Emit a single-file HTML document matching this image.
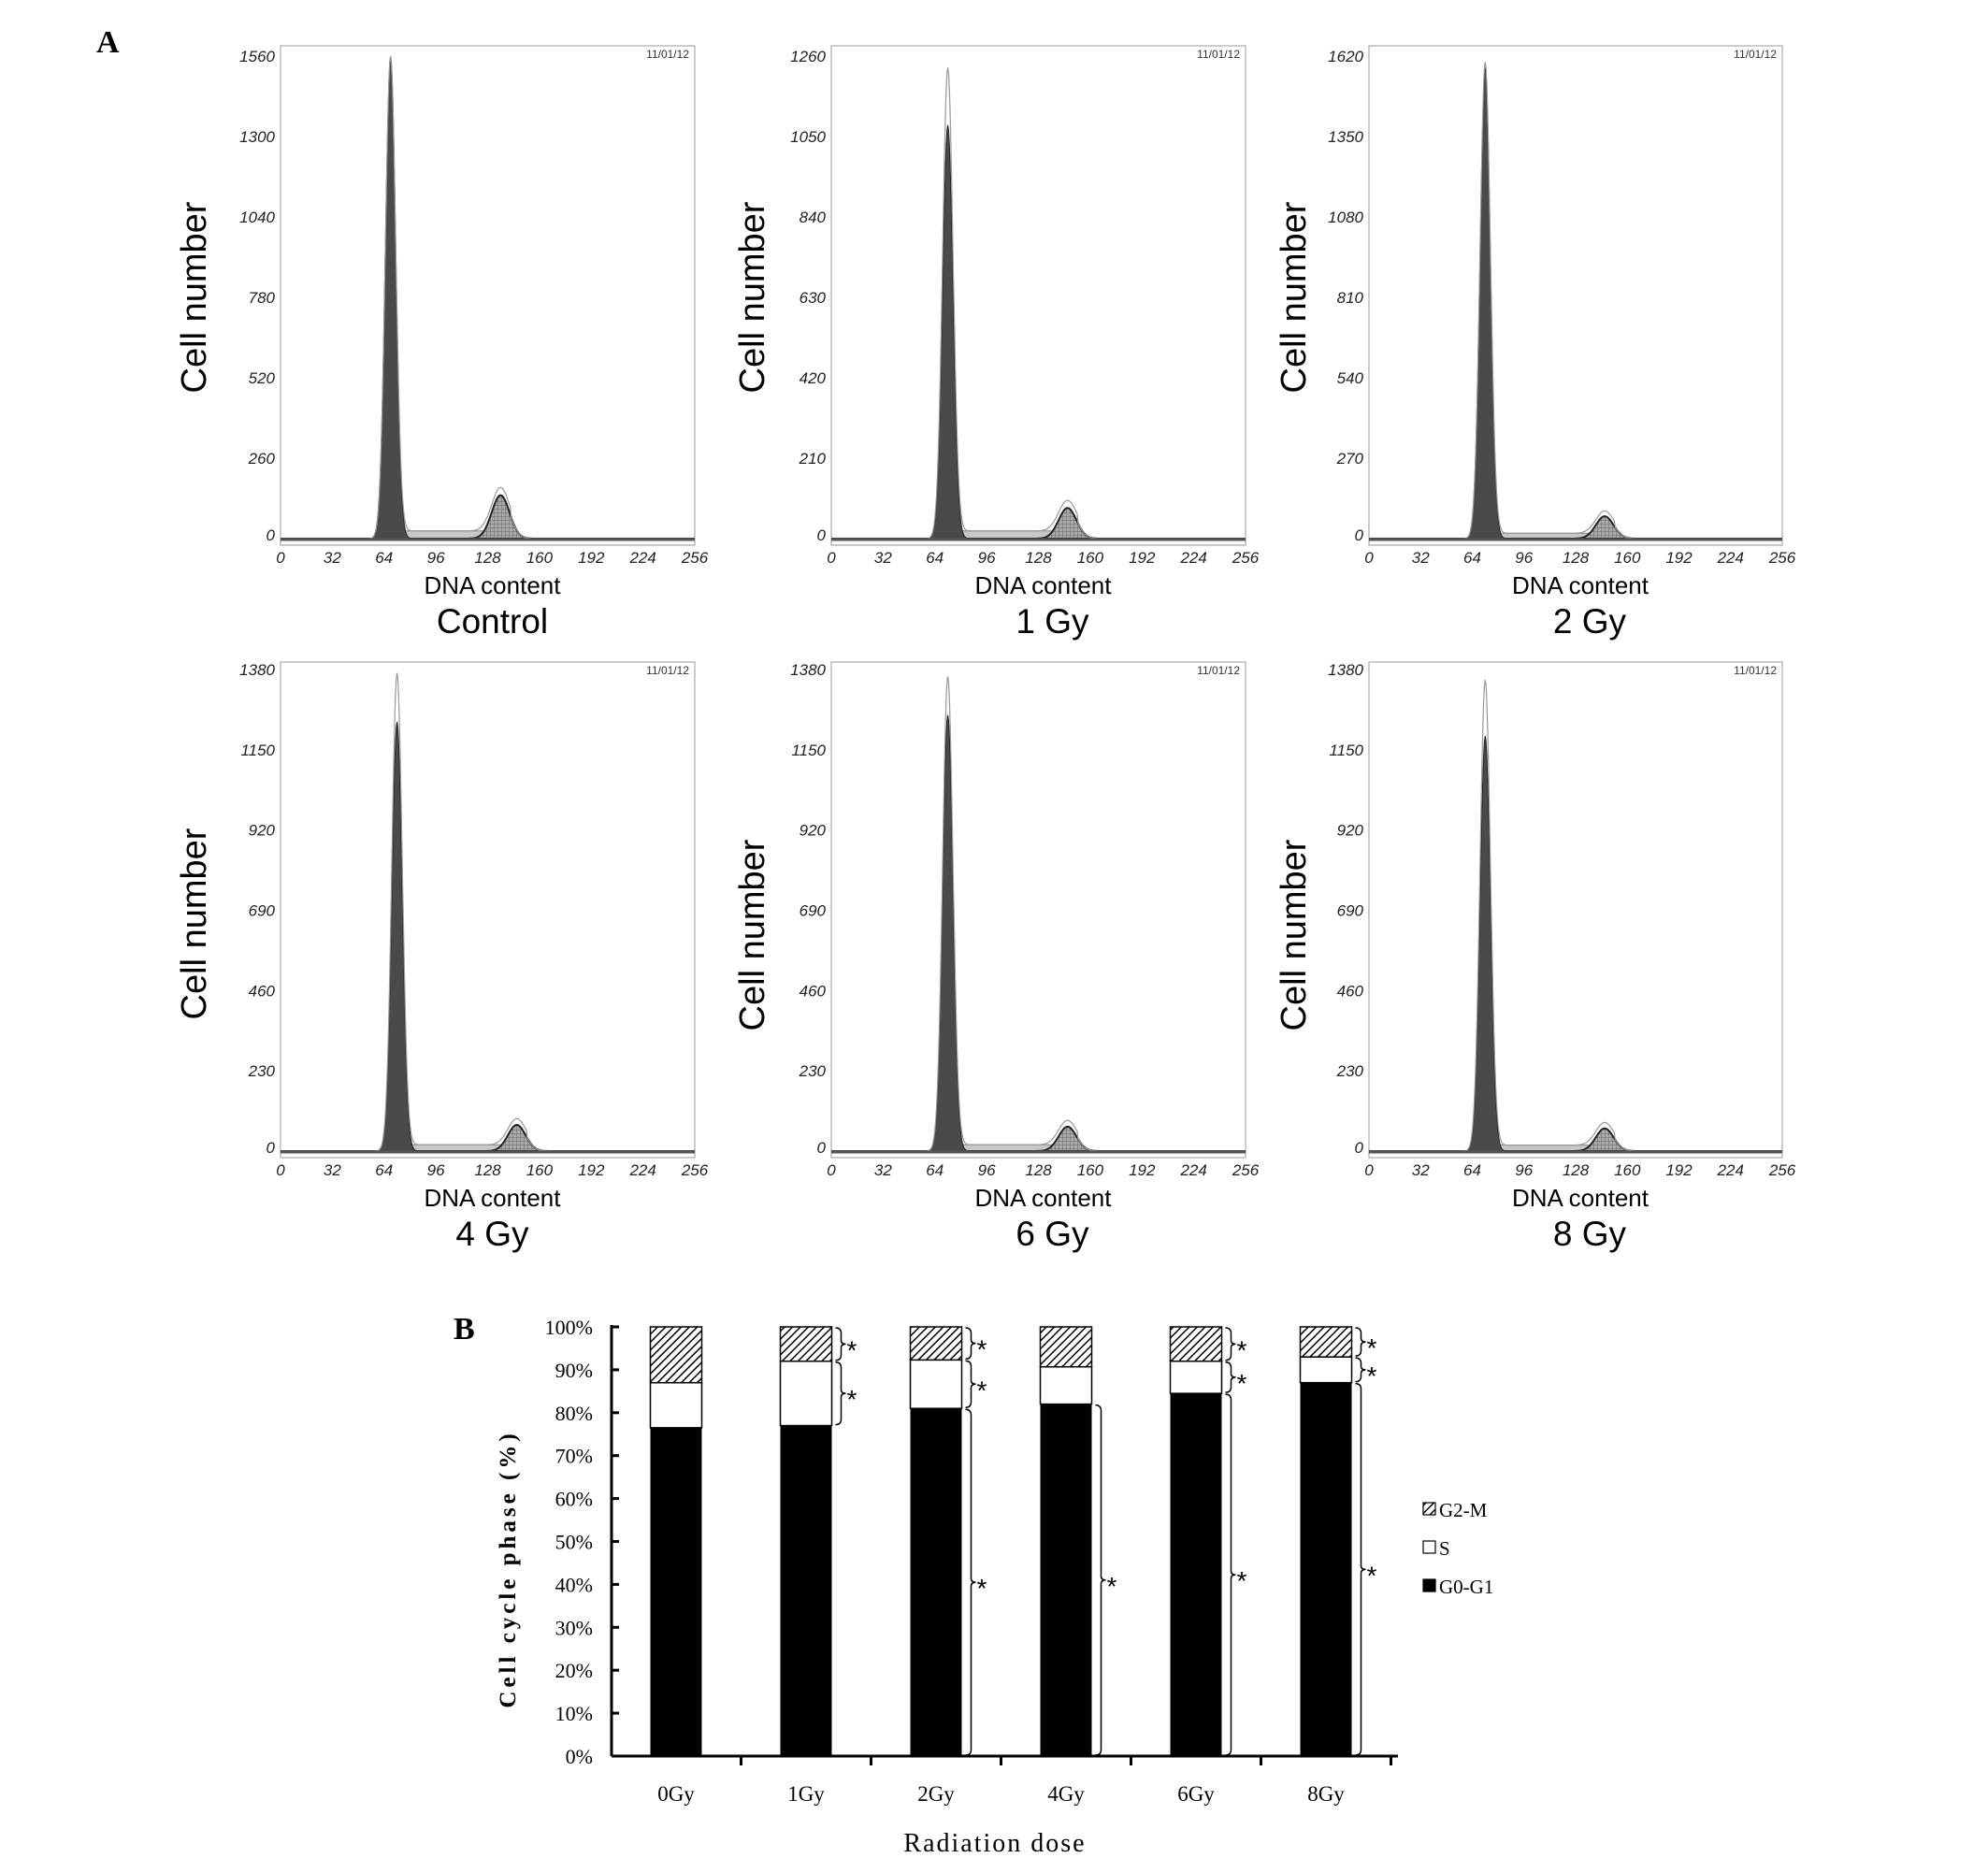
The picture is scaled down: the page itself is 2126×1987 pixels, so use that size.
<!DOCTYPE html>
<html><head><meta charset="utf-8"><style>
html,body{margin:0;padding:0;background:#fff;}
svg{display:block;}
</style></head><body>
<svg id="fig" width="2126" height="1987" viewBox="0 0 2126 1987" xmlns="http://www.w3.org/2000/svg">
<rect width="2126" height="1987" fill="#fff"/>
<text x="103" y="56" font-family="Liberation Serif, serif" font-weight="bold" font-size="34">A</text>
<text x="485" y="1432" font-family="Liberation Serif, serif" font-weight="bold" font-size="34">B</text>
<g id="hists"></g>
<g id="bars"></g>
</svg>
<script>
// ---- Panel A histogram data ----
const panelTitles = ["Control","1 Gy","2 Gy","4 Gy","6 Gy","8 Gy"];
const yMaxes = [1560,1260,1620,1380,1380,1380];
const yTickStep = [260,210,270,230,230,230];
const g1Peaks = [1560,1080,1580,1230,1250,1190];
const g1RawPeaks = [1560,1230,1600,1370,1360,1350];
const g1Pos = [68,72,72,72,72,72];
const g2Peaks = [140,80,75,75,70,65];
const g2Pos = [136,146,146,146,146,146];
const sLevels = [25,20,18,18,18,17];
const xTicks = [0,32,64,96,128,160,192,224,256];

// ---- Panel B bar data ----
const doses = ["0Gy","1Gy","2Gy","4Gy","6Gy","8Gy"];
const g0g1 = [76.5,77,81,82,84.5,87];
const sPhase = [10.5,15,11.3,8.7,7.5,6];
const g2m = [13,8,7.7,9.3,8,7];
const yPctTicks = [0,10,20,30,40,50,60,70,80,90,100];

const NS="http://www.w3.org/2000/svg";
function mk(tag, attrs, parent, text){
  const e=document.createElementNS(NS,tag);
  for(const k in attrs) e.setAttribute(k,attrs[k]);
  if(text!==undefined) e.textContent=text;
  parent.appendChild(e); return e;
}
const svg=document.getElementById('fig');
const defs=mk('defs',{},svg);
const pat=mk('pattern',{id:'hatch',width:6,height:6,patternUnits:'userSpaceOnUse',patternTransform:'rotate(45)'},defs);
mk('rect',{width:6,height:6,fill:'#fff'},pat);
mk('line',{x1:0,y1:0,x2:0,y2:6,stroke:'#000','stroke-width':3},pat);
const grid=mk('pattern',{id:'grid',width:4,height:4,patternUnits:'userSpaceOnUse'},defs);
mk('rect',{width:4,height:4,fill:'#aaa'},grid);
mk('path',{d:'M0 0H4M0 0V4',stroke:'#666','stroke-width':1},grid);

const hg=document.getElementById('hists');
const colX=[[300,743],[889,1332],[1464,1906]];
const rows=[{top:49,ymax:60,bot:583},{top:708,ymax:716,bot:1238}];
const cellNumX=[207,804,1383];

for(let i=0;i<6;i++){
  const c=colX[i%3], r=rows[Math.floor(i/3)];
  const g=mk('g',{},hg);
  
  
  const x0=c[0],x1=c[1];
  const zeroY=r.bot-7;
  const sx=v=>x0+(v/256)*(x1-x0);
  const sy=v=>zeroY-(v/yMaxes[i])*(zeroY-r.ymax);
  const box=mk('rect',{x:x0,y:r.top,width:x1-x0,height:r.bot-r.top,fill:'none',stroke:'#bbb','stroke-width':1.5},g);
  
  
  const dt=mk('text',{x:x1-6,y:r.top+13,'text-anchor':'end','font-family':'Liberation Sans, sans-serif','font-size':12,fill:'#333'},g,'11/01/12');
  
  
  for(let v=0;v<=yMaxes[i];v+=yTickStep[i]){
    const t=mk('text',{x:x0-6,y:sy(v)+(v===0?2:6),'text-anchor':'end','font-family':'Liberation Sans, sans-serif','font-style':'italic','font-size':17,fill:'#222'},g,String(v));
    
    
  }
  xTicks.forEach(v=>{
    const t=mk('text',{x:sx(v),y:r.bot+19,'text-anchor':'middle','font-family':'Liberation Sans, sans-serif','font-style':'italic','font-size':17,fill:'#222'},g,String(v));
    
    
  });
  const w1=3.2,w2=5.5;
  const gauss=(x,m,w)=>Math.exp(-0.5*((x-m)/w)**2);
  const sPart=x=>{ if(x<g1Pos[i]+4||x>g2Pos[i]+6) return 0; return sLevels[i]; };
  let dS='M'+sx(0)+' '+sy(0), dG1='M'+sx(0)+' '+sy(0), dG2='M'+sx(0)+' '+sy(0), dL='';
  for(let x=0;x<=256;x+=0.5){
    const s=sPart(x), a=g1Peaks[i]*gauss(x,g1Pos[i],w1), b=g2Peaks[i]*gauss(x,g2Pos[i],w2);
    dS+=' L'+sx(x)+' '+sy(s);
    dG1+=' L'+sx(x)+' '+sy(a);
    dG2+=' L'+sx(x)+' '+sy(b);
    const raw=(g1RawPeaks[i])*gauss(x,g1Pos[i],w1)+b+s;
    dL+=(x===0?'M':' L')+sx(x)+' '+sy(raw);
  }
  dS+=' L'+sx(256)+' '+sy(0)+'Z'; dG1+=' L'+sx(256)+' '+sy(0)+'Z'; dG2+=' L'+sx(256)+' '+sy(0)+'Z';
  const ps=mk('path',{d:dS,fill:'#c8c8c8',stroke:'#888','stroke-width':1},g);
   
  const p2=mk('path',{d:dG2,fill:'url(#grid)',stroke:'#222','stroke-width':2},g);
   
  const p1=mk('path',{d:dG1,fill:'#4a4a4a',stroke:'#222','stroke-width':1},g);
   
  const pl=mk('path',{d:dL,fill:'none',stroke:'#999','stroke-width':1.2},g);
   
  mk('line',{x1:x0,y1:sy(0)+1,x2:x1,y2:sy(0)+1,stroke:'#555','stroke-width':3},g);
  const cx=(x0+x1)/2+5;
  const xl=mk('text',{x:cx,y:r.bot+52,'text-anchor':'middle','font-family':'Liberation Sans, sans-serif','font-size':26},g,'DNA content');
   
  const tl=mk('text',{x:cx+(i%3?10:0),y:r.bot+94,'text-anchor':'middle','font-family':'Liberation Sans, sans-serif','font-size':37},g,panelTitles[i]);
   
  const cyl=r===rows[0]?318:(i===3?988:1000);
  const yl=mk('text',{x:0,y:0,'text-anchor':'middle','font-family':'Liberation Sans, sans-serif','font-size':38,transform:'translate('+(cellNumX[i%3]+13)+','+cyl+') rotate(-90)'},g,'Cell number');
   
}

// ---- Panel B ----
const bg=document.getElementById('bars');
const ax0=654, ax1=1495, y0=1878, y100=1419;
const yS=p=>y0-(p/100)*(y0-y100);
const step=139, firstC=723, bw=55;
const xC=i=>firstC+i*step;
const serif='Liberation Serif, "Noto Serif CJK SC", serif';
yPctTicks.forEach(p=>{
  const t=mk('text',{x:ax0-20,y:yS(p)+8,'text-anchor':'end','font-family':serif,'font-size':22},bg,p+'%');
   
  mk('line',{x1:ax0,y1:yS(p),x2:ax0+8,y2:yS(p),stroke:'#000','stroke-width':3},bg);
});
doses.forEach((d,i)=>{
  const x=xC(i)-bw/2;
  const a=g0g1[i], b=a+sPhase[i], c=b+g2m[i];
  const r1=mk('rect',{x:x,y:yS(a),width:bw,height:yS(0)-yS(a),fill:'#000'},bg);
   
  const r2=mk('rect',{x:x,y:yS(b),width:bw,height:yS(a)-yS(b),fill:'#fff',stroke:'#000','stroke-width':1.5},bg);
   
  const r3=mk('rect',{x:x,y:yS(Math.min(c,100)),width:bw,height:yS(b)-yS(Math.min(c,100)),fill:'url(#hatch)',stroke:'#000','stroke-width':1.5},bg);
   
  const t=mk('text',{x:xC(i),y:1926,'text-anchor':'middle','font-family':serif,'font-size':23},bg,d);
   
  mk('line',{x1:xC(i)+step/2,y1:y0,x2:xC(i)+step/2,y2:y0+10,stroke:'#000','stroke-width':3},bg);
});
mk('line',{x1:ax0,y1:y100-2,x2:ax0,y2:y0,stroke:'#000','stroke-width':3},bg);
mk('line',{x1:ax0,y1:y0,x2:ax1,y2:y0,stroke:'#000','stroke-width':3},bg);
const braces=[[1,1],[1,2],[2,0],[2,1],[2,2],[3,0],[4,0],[4,1],[4,2],[5,0],[5,1],[5,2]];
braces.forEach(([i,sgm])=>{
  const a=g0g1[i], b=a+sPhase[i];
  const lo=[0,a,b][sgm], hi=[a,b,100][sgm];
  const xb=xC(i)+bw/2+4, yt=yS(hi)+1, yb=yS(lo)-1, ym=(yt+yb)/2;
  const d='M'+xb+' '+yt+' Q'+(xb+6)+' '+yt+' '+(xb+6)+' '+(yt+6)+' L'+(xb+6)+' '+(ym-4)+' Q'+(xb+6)+' '+ym+' '+(xb+11)+' '+ym+' Q'+(xb+6)+' '+ym+' '+(xb+6)+' '+(ym+4)+' L'+(xb+6)+' '+(yb-6)+' Q'+(xb+6)+' '+yb+' '+xb+' '+yb;
  const p=mk('path',{d:d,fill:'none',stroke:'#000','stroke-width':1.5},bg);
   
  const s=mk('text',{x:xb+12,y:ym+16,'font-family':'Liberation Sans, sans-serif','font-size':28},bg,'*');
   
});
const yt=mk('text',{x:0,y:0,'text-anchor':'middle','font-family':serif,'font-weight':'bold','font-size':25,'letter-spacing':4,transform:'translate(551,1678) rotate(-90)'},bg,'Cell cycle phase (%)');
 
const xt=mk('text',{x:1064,y:1980,'text-anchor':'middle','font-family':serif,'font-size':28,'letter-spacing':2},bg,'Radiation dose');
 
const legItems=[['G2-M','url(#hatch)',1622],['S','#fff',1663],['G0-G1','#000',1704]];
legItems.forEach(([lab,fill,y])=>{
  const lg=mk('g',{},bg);
   
  mk('rect',{x:1522,y:y-15,width:13,height:13,fill:fill,stroke:'#000','stroke-width':1.2},lg);
  mk('text',{x:1539,y:y,'font-family':serif,'font-size':21},lg,lab);
});
</script>
</body></html>
